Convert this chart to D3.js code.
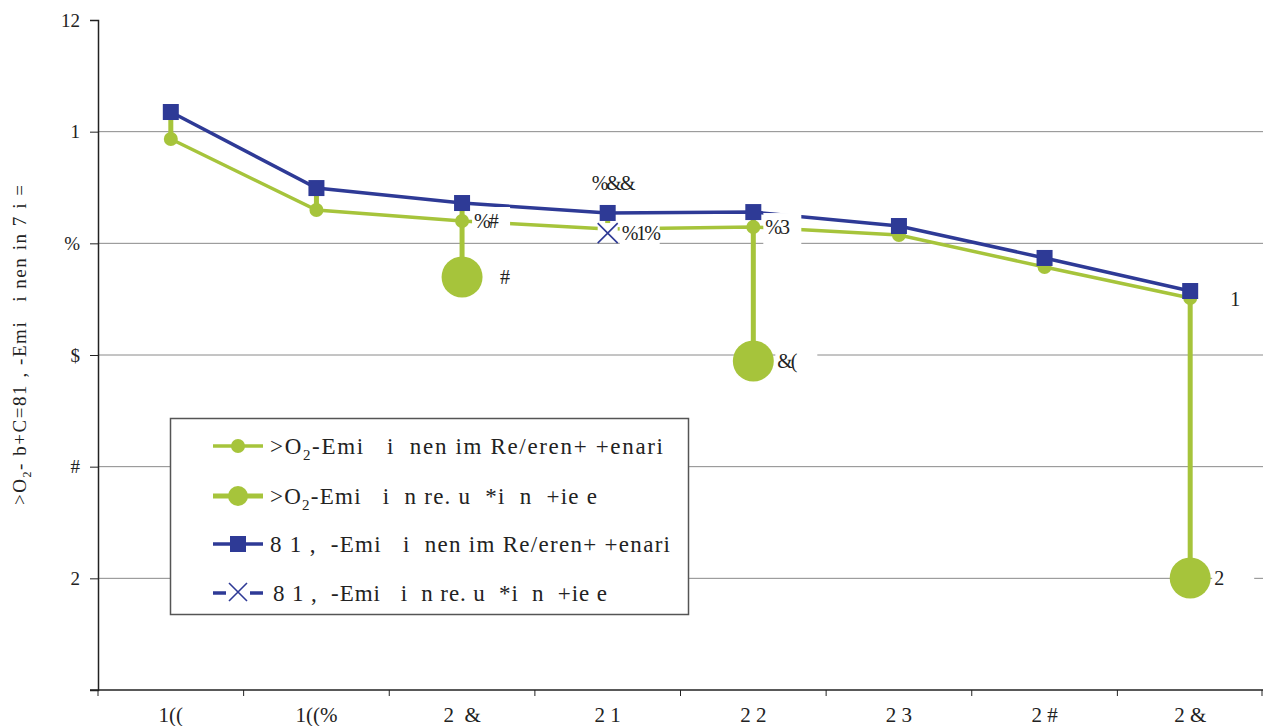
<!DOCTYPE html>
<html>
<head>
<meta charset="utf-8">
<script src="https://cdn.jsdelivr.net/npm/d3@7"></script>
<style>
  html, body { margin: 0; padding: 0; background: #fff; }
  svg { display: block; }
</style>
</head>
<body>
<svg id="chart" width="1263" height="726"></svg>
<script>
// Category labels along the x axis
const categories = ["1((", "1((%", "2  &", "2 1", "2 2", "2 3", "2 #", "2 &"];

// Series values (axis units 0..6)
const co2Reference   = [4.934, 4.298, 4.200, 4.128, 4.146, 4.075, 3.788, 3.510];
const co2Reduction   = [null, null, 3.698, null, 2.946, null, null, 1.003];
const ch4Reference   = [5.176, 4.495, 4.361, 4.272, 4.280, 4.155, 3.869, 3.573];
const ch4Reduction   = [null, null, null, 4.092, null, null, null, null];

// Y tick values and their labels
const yTicks = [0, 1, 2, 3, 4, 5, 6];
const yTickLabels = ["", "2", "#", "$", "%", "1", "12"];

// Data label texts per series (null = no label)
const co2RefLabels = [null, null, "%#", null, "%3", null, null, null];
const co2RedLabels = [null, null, "#", null, "&(", null, null, "2"];
const ch4RefLabels = [null, null, null, "%&&", null, null, null, "1"];
const ch4RedLabels = [null, null, null, "%1%", null, null, null, null];

const legendLabels = [
  [">O", "2", "-Emi   i  nen im Re/eren+ +enari"],
  [">O", "2", "-Emi   i  n re. u  *i  n  +ie e"],
  ["8 1 ,  -Emi   i  nen im Re/eren+ +enari", null, ""],
  ["8 1 ,  -Emi   i  n re. u  *i  n  +ie e", null, ""]
];
const yTitle = [">O", "2", "- b+C=81 , -Emi   i nen in 7 i ="];

const GREEN = "#a6c43b";
const BLUE = "#2e3a96";
const FONT = "'Liberation Serif', 'Times New Roman', serif";
const serif = sel => sel.style("font-family", FONT).style("white-space", "pre");

const svg = d3.select("#chart");
const mLeft = 98, mRight = 1263, mTop = 20, mBottom = 690;

const x = d3.scaleBand().domain(categories).range([mLeft, mRight]).padding(0);
const y = d3.scaleLinear().domain([0, 6]).range([mBottom, mTop]);
const cx = c => x(c) + x.bandwidth() / 2;

// Gridlines
svg.append("g").selectAll("line")
  .data(yTicks.filter(v => v > 0 && v < 6))
  .join("line")
  .attr("x1", mLeft).attr("x2", mRight)
  .attr("y1", d => y(d)).attr("y2", d => y(d))
  .attr("stroke", "#8a8a8a").attr("stroke-width", 1);

// Y axis
const yAxis = d3.axisLeft(y).tickValues(yTicks)
  .tickFormat((d, i) => yTickLabels[i]).tickSize(8).tickPadding(10);
const gy = svg.append("g").attr("transform", `translate(${mLeft},0)`).call(yAxis);
gy.select(".domain").attr("stroke", "#222").attr("stroke-width", 1.5);
gy.selectAll(".tick line").attr("stroke", "#222");
gy.selectAll("text").attr("font-size", 19).attr("fill", "#222").call(serif);

// X axis with ticks at category boundaries
const gx = svg.append("g").attr("transform", `translate(0,${mBottom})`);
gx.append("line").attr("x1", mLeft - 8).attr("x2", mRight).attr("y1", 0).attr("y2", 0)
  .attr("stroke", "#222").attr("stroke-width", 1.5);
const bounds = categories.map(c => x(c)).concat([mRight - 1]);
gx.selectAll("line.tk").data(bounds).join("line").attr("class", "tk")
  .attr("x1", d => d).attr("x2", d => d).attr("y1", 0).attr("y2", 6)
  .attr("stroke", "#222");
gx.selectAll("text").data(categories).join("text")
  .attr("x", d => cx(d)).attr("y", 32)
  .attr("text-anchor", "middle").attr("font-size", 21).attr("fill", "#222")
  .call(serif)
  .text(d => d);

// Y axis title
const yt = svg.append("text")
  .attr("transform", `translate(26,345) rotate(-90)`)
  .attr("text-anchor", "middle").attr("font-size", 19).attr("fill", "#222")
  .attr("textLength", 320).attr("lengthAdjust", "spacing")
  .call(serif);
yt.append("tspan").text(yTitle[0]);
yt.append("tspan").attr("font-size", 12).attr("dy", 5).text(yTitle[1]);
yt.append("tspan").attr("dy", -5).text(yTitle[2]);

// High-low lines across all series at each category
const allSeries = [co2Reference, co2Reduction, ch4Reference, ch4Reduction];
const hiLo = categories.map((c, i) => {
  const vals = allSeries.map(s => s[i]).filter(v => v != null);
  return { c, hi: d3.max(vals), lo: d3.min(vals) };
});
svg.append("g").selectAll("line").data(hiLo).join("line")
  .attr("x1", d => cx(d.c)).attr("x2", d => cx(d.c))
  .attr("y1", d => y(d.hi)).attr("y2", d => y(d.lo))
  .attr("stroke", GREEN).attr("stroke-width", 5);

// Series lines
const line = d3.line().defined(d => d.v != null).x(d => cx(d.c)).y(d => y(d.v));
const pts = s => categories.map((c, i) => ({ c, v: s[i], i }));
svg.append("path").datum(pts(co2Reference)).attr("d", line)
  .attr("fill", "none").attr("stroke", GREEN).attr("stroke-width", 3.5);
svg.append("path").datum(pts(ch4Reference)).attr("d", line)
  .attr("fill", "none").attr("stroke", BLUE).attr("stroke-width", 3.5);

// Markers
svg.append("g").selectAll("circle").data(pts(co2Reference).filter(d => d.v != null && d.i !== 3))
  .join("circle").attr("cx", d => cx(d.c)).attr("cy", d => y(d.v)).attr("r", 7).attr("fill", GREEN);
svg.append("g").selectAll("circle").data(pts(co2Reduction).filter(d => d.v != null))
  .join("circle").attr("cx", d => cx(d.c)).attr("cy", d => y(d.v)).attr("r", 20.5).attr("fill", GREEN);
svg.append("g").selectAll("rect").data(pts(ch4Reference).filter(d => d.v != null))
  .join("rect").attr("x", d => cx(d.c) - 8).attr("y", d => y(d.v) - 8)
  .attr("width", 16).attr("height", 16).attr("fill", BLUE);
const xm = svg.append("g").selectAll("g").data(pts(ch4Reduction).filter(d => d.v != null))
  .join("g").attr("transform", d => `translate(${cx(d.c)},${y(d.v)})`);
xm.append("rect").attr("x", -10).attr("y", -10).attr("width", 20).attr("height", 18).attr("fill", "#fff");
xm.append("path").attr("d", "M-10,-10L10,10M-10,10L10,-10")
  .attr("stroke", BLUE).attr("stroke-width", 1.6).attr("fill", "none");

// Data labels (white boxed)
const labelPlacements = [
  { s: co2Reference, t: co2RefLabels, dx: 12, dy: 0, box: [-2, 38] },
  { s: co2Reduction, t: co2RedLabels, dx: 24, dy: 0, box: [-2, 42] },
  { s: ch4Reference, t: ch4RefLabels, dx: -16, dy: -30, box: null },
  { s: ch4Reduction, t: ch4RedLabels, dx: 14, dy: 0, box: [-2, 40] }
];
const lg = svg.append("g");
labelPlacements.forEach(p => {
  p.t.forEach((txt, i) => {
    if (txt == null) return;
    let px = cx(categories[i]) + p.dx, py = y(p.s[i]) + p.dy;
    if (p.s === ch4Reference && i === 7) { px = cx(categories[i]) + 40; py = y(p.s[i]) + 8; }
    if (p.s === co2Reduction && i === 2) { px += 14; }
    if (p.box && !(p.s === co2Reduction && i === 2)) {
      lg.append("rect").attr("x", px + p.box[0]).attr("y", py - 14)
        .attr("width", p.box[1]).attr("height", 32).attr("fill", "#fff");
    }
    lg.append("text").attr("x", px).attr("y", py + 7).attr("font-size", 20)
      .attr("fill", "#222").attr("letter-spacing", -2).call(serif).text(txt);
  });
});

// Legend
const legend = svg.append("g");
legend.append("rect").attr("x", 170.5).attr("y", 418.5).attr("width", 518).attr("height", 196)
  .attr("fill", "#fff").attr("stroke", "#555").attr("stroke-width", 1.5);
const legY = [446, 496, 544, 593];
const legX = [270, 270, 270, 273];
const legLen = [393, 327, 400, 334];
legendLabels.forEach((lab, i) => {
  const g = legend.append("g").attr("transform", `translate(0,${legY[i]})`);
  if (i === 0) {
    g.append("line").attr("x1", 213).attr("x2", 263).attr("stroke", GREEN).attr("stroke-width", 3.5);
    g.append("circle").attr("cx", 238).attr("r", 7).attr("fill", GREEN);
  } else if (i === 1) {
    g.append("line").attr("x1", 213).attr("x2", 263).attr("stroke", GREEN).attr("stroke-width", 5);
    g.append("circle").attr("cx", 238).attr("r", 10).attr("fill", GREEN);
  } else if (i === 2) {
    g.append("line").attr("x1", 213).attr("x2", 263).attr("stroke", BLUE).attr("stroke-width", 3.5);
    g.append("rect").attr("x", 230).attr("y", -8).attr("width", 16).attr("height", 16).attr("fill", BLUE);
  } else {
    g.append("line").attr("x1", 213).attr("x2", 226).attr("stroke", BLUE).attr("stroke-width", 3.5);
    g.append("line").attr("x1", 250).attr("x2", 263).attr("stroke", BLUE).attr("stroke-width", 3.5);
    g.append("path").attr("d", "M229,-10L247,8M229,8L247,-10").attr("stroke", BLUE).attr("stroke-width", 1.6);
  }
  const t = g.append("text").attr("x", legX[i]).attr("y", 8).attr("font-size", 23).attr("fill", "#222")
    .attr("textLength", legLen[i]).attr("lengthAdjust", "spacing").call(serif);
  t.append("tspan").text(lab[0]);
  if (lab[1]) {
    t.append("tspan").attr("font-size", 15).attr("dy", 6).text(lab[1]);
    t.append("tspan").attr("dy", -6).text(lab[2]);
  }
});
</script>
</body>
</html>
